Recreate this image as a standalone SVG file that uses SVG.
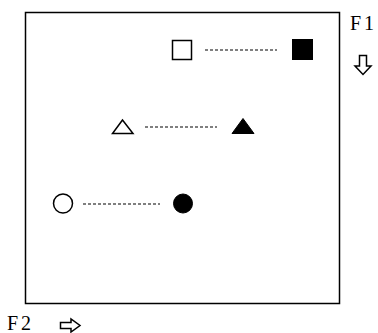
<svg xmlns="http://www.w3.org/2000/svg" width="378" height="333" viewBox="0 0 378 333">
<style>
.ln{stroke:#000;stroke-width:1.5;fill:none}
.op{stroke:#000;stroke-width:1.5;fill:#fff}
.fl{stroke:#000;stroke-width:1;fill:#000}
.dash{stroke:#000;stroke-width:1.2;stroke-dasharray:3 2;fill:none}
.lbl{font-family:"Liberation Serif","DejaVu Serif",serif;font-size:20px;fill:#000}
</style>
<rect width="378" height="333" fill="#fff"/>
<g id="frame"><rect class="ln" x="25.5" y="12.5" width="314" height="291"/></g>
<g id="sq-open"><rect class="op" x="172.5" y="40.5" width="19" height="19"/></g>
<g id="sq-fill"><rect class="fl" x="292.5" y="39.5" width="20" height="20"/></g>
<g id="tri-open"><polygon class="op" points="122.5,120 112.5,133.5 133,133.5"/></g>
<g id="tri-fill"><polygon class="fl" points="243,118.5 232,133.5 254,133.5"/></g>
<g id="circ-open"><circle class="op" cx="63" cy="203.5" r="9.5"/></g>
<g id="circ-fill"><circle class="fl" cx="183" cy="203.5" r="9.5"/></g>
<g id="connectors">
<line class="dash" x1="205" y1="50" x2="277" y2="50"/>
<line class="dash" x1="145" y1="127" x2="217" y2="127"/>
<line class="dash" x1="83" y1="204" x2="160" y2="204"/>
</g>
<g id="label-f1">
<text class="lbl" x="350" y="30" letter-spacing="3">F1</text>
<path class="ln" d="M359.5,55.5 H366.5 V66 H371 L363,74.5 L355,66 H359.5 Z" stroke-width="1.3"/>
</g>
<g id="label-f2">
<text class="lbl" x="7" y="330" letter-spacing="3">F2</text>
<path class="ln" d="M60.5,322.5 H71 V319 L80,325.5 L71,332 V328.5 H60.5 Z" stroke-width="1.3"/>
</g>
</svg>
